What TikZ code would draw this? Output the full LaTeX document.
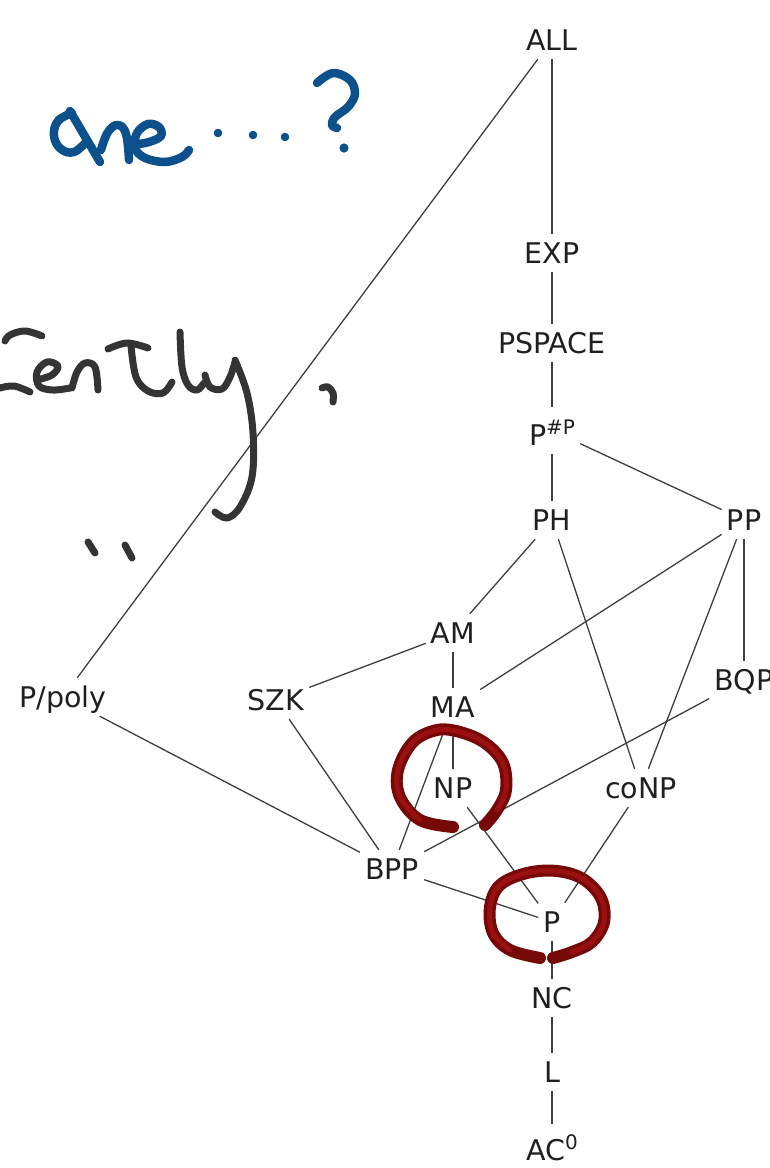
\documentclass[tikz,border=0pt]{standalone}
\usepackage{fontspec}
\setmainfont{DejaVu Sans}
\definecolor{inkblue}{RGB}{12,80,140}
\definecolor{inkgray}{RGB}{52,52,52}
\definecolor{markred}{RGB}{118,8,8}
\definecolor{markredlight}{RGB}{190,24,24}
\definecolor{edgegray}{RGB}{62,62,62}
\newcommand\clsup[1]{\raisebox{11pt}{\fontsize{20}{20}\selectfont #1}}
\begin{document}
\begin{tikzpicture}[x=1pt,y=-1pt,
  cls/.style={font=\fontsize{28.5}{34}\selectfont, text=black!88,
    inner xsep=5pt, inner ysep=8pt, text height=21pt, text depth=1pt, anchor=base},
  link/.style={draw=edgegray, line width=1.3pt},
  bluepen/.style={draw=inkblue, line width=8.5pt, line cap=round, line join=round},
  graypen/.style={draw=inkgray, line width=7pt, line cap=round, line join=round},
  redpen/.style={draw=markred, line width=12pt, line cap=round, line join=round},
  redsheen/.style={draw=markredlight, opacity=0.5, line width=5pt, line cap=round, line join=round}]
\useasboundingbox (0,0) rectangle (770,1168);

% complexity classes
\node[cls] (all)    at (552,50)   {ALL};
\node[cls] (exp)    at (552,263)  {EXP};
\node[cls] (pspace) at (552,353)  {PSPACE};
\node[cls, text height=30pt] (psharp) at (552,445) {P\clsup{\#P}};
\node[cls] (ph)     at (552,530)  {PH};
\node[cls] (pp)     at (744,530)  {PP};
\node[cls] (am)     at (453,643)  {AM};
\node[cls] (szk)    at (276,710)  {SZK};
\node[cls] (ma)     at (453,717)  {MA};
\node[cls] (ppoly)  at (63,707)   {P/poly};
\node[cls] (bqp)    at (744,690)  {BQP};
\node[cls] (np)     at (453,798)  {NP};
\node[cls] (conp)   at (641,798)  {coNP};
\node[cls] (bpp)    at (392,879)  {BPP};
\node[cls] (p)      at (552,932)  {P};
\node[cls] (nc)     at (552,1008) {NC};
\node[cls] (l)      at (552,1082) {L};
\node[cls, text height=28pt] (aco) at (552,1160) {AC\clsup{0}};

% inclusions
\draw[link] (all) -- (exp);
\draw[link] (all) -- (ppoly);
\draw[link] (exp) -- (pspace);
\draw[link] (pspace) -- (psharp);
\draw[link] (psharp) -- (ph);
\draw[link] (psharp) -- (pp);
\draw[link] (ph) -- (am);
\draw[link] (ph) -- (conp);
\draw[link] (pp) -- (ma);
\draw[link] (pp) -- (conp);
\draw[link] (pp) -- (bqp);
\draw[link] (am) -- (szk);
\draw[link] (am) -- (ma);
\draw[link] (ma) -- (np);
\draw[link] (ma) -- (bpp);
\draw[link] (szk) -- (bpp);
\draw[link] (ppoly) -- (bpp);
\draw[link] (bqp) -- (bpp);
\draw[link] (np) -- (p);
\draw[link] (conp) -- (p);
\draw[link] (bpp) -- (p);
\draw[link] (p) -- (nc);
\draw[link] (nc) -- (l);
\draw[link] (l) -- (aco);

% handwriting: "one ...?"
\draw[bluepen] plot[smooth, tension=0.7] coordinates {(72,113) (58,121) (54,136) (61,149) (74,152) (87,141)};
\draw[bluepen] (70,111) -- (100,162);
\draw[bluepen] plot[smooth, tension=0.7] coordinates {(101,150) (108,132) (118,125) (126,134) (129,160)};
\draw[bluepen] plot[smooth, tension=0.6] coordinates {(133,145) (149,142) (161,136) (159,127) (148,124) (137,133) (135,148) (145,158) (165,162) (182,157) (189,150)};
\fill[inkblue] (218,133) circle (4.3);
\fill[inkblue] (253,135) circle (4.3);
\fill[inkblue] (285,137) circle (4.3);
\draw[bluepen] plot[smooth, tension=0.6] coordinates {(317,83) (333,73) (350,80) (355,94) (348,107) (335,117) (332,125) (337,128)};
\fill[inkblue] (344,148) circle (4.6);

% handwriting: "...iently,"
\draw[graypen] plot[smooth, tension=0.6] coordinates {(5,341) (10,335) (25,331) (42,336)};
\draw[graypen] plot[smooth, tension=0.6] coordinates {(0,388) (14,386) (30,392)};
\draw[graypen] plot[smooth, tension=0.6] coordinates {(37,380) (52,375) (58,366) (47,362) (37,372) (39,386) (53,390) (70,388)};
\draw[graypen] plot[smooth, tension=0.6] coordinates {(72,388) (77,372) (85,363) (95,367) (98,390)};
\draw[graypen] plot[smooth, tension=0.6] coordinates {(108,349) (127,343) (148,348)};
\draw[graypen] plot[smooth, tension=0.6] coordinates {(131,346) (136,377) (148,391) (163,393) (172,382)};
\draw[graypen] plot[smooth, tension=0.6] coordinates {(180,332) (182,367) (188,385) (197,390) (204,383)};
\draw[graypen] plot[smooth, tension=0.6] coordinates {(205,375) (210,387) (222,389) (230,377) (235,362)};
\draw[graypen] plot[smooth, tension=0.6] coordinates {(235,360) (247,393) (253,433) (252,477) (240,507) (227,518) (215,512)};
\draw[graypen] plot[smooth, tension=0.6] coordinates {(322,388) (328,387) (333,393) (333,402)};
\draw[graypen] (88,542) -- (95,553);
\draw[graypen] (125,545) -- (132,558);

% red marks round NP and P
\draw[redpen] plot[smooth, tension=0.6] coordinates {(453,827) (420,820) (400,797) (398,770) (413,742) (437,730) (460,732) (485,743) (503,763) (506,790) (497,810) (485,825)};
\draw[redsheen] plot[smooth, tension=0.6] coordinates {(420,820) (400,797) (398,770) (413,742) (437,730) (460,732) (485,743) (503,763) (506,790) (497,810)};
\draw[redpen] plot[smooth, tension=0.6] coordinates {(540,958) (510,950) (493,933) (490,907) (500,885) (527,873) (557,871) (583,879) (601,898) (604,922) (592,942) (572,952) (553,958)};
\draw[redsheen] plot[smooth, tension=0.6] coordinates {(510,950) (493,933) (490,907) (500,885) (527,873) (557,871) (583,879) (601,898) (604,922) (592,942) (572,952)};
\end{tikzpicture}
\end{document}
